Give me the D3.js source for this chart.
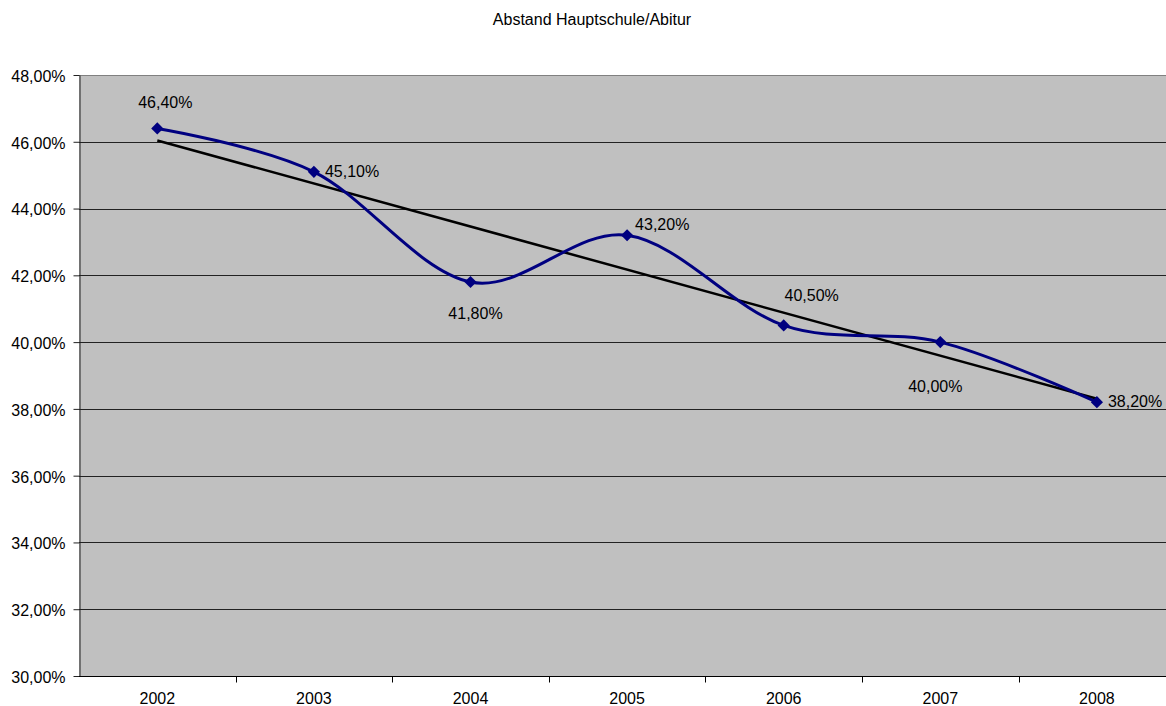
<!DOCTYPE html>
<html>
<head>
<meta charset="utf-8">
<script src="https://cdn.jsdelivr.net/npm/d3@7"></script>
<style>
  body { margin: 0; background: #fff; }
  svg { display: block; font-family: "Liberation Sans", Arial, sans-serif; }
</style>
</head>
<body>
<svg id="chart" width="1166" height="706"></svg>
<script>
// data
const years = ["2002", "2003", "2004", "2005", "2006", "2007", "2008"];
const values = [46.4, 45.1, 41.8, 43.2, 40.5, 40.0, 38.2];
const yTicks = [30, 32, 34, 36, 38, 40, 42, 44, 46, 48];
const title = "Abstand Hauptschule/Abitur";

// label placement per point (dx, dy from marker, anchor)
const labelPlace = [
  [8, -20, "middle"], [11, 5, "start"], [5, 37, "middle"], [8, -5, "start"],
  [28, -24, "middle"], [-5, 50, "middle"], [11, 5, "start"]
];

const fmt = v => v.toFixed(2).replace(".", ",") + "%";
const FS = 16;

const svg = d3.select("#chart");
const margin = { top: 75, left: 79, bottom: 676 };
const step = 156.6;

const x = d3.scaleBand()
  .domain(years)
  .range([margin.left, margin.left + step * years.length])
  .padding(0);

const y = d3.scaleLinear()
  .domain([30, 48])
  .range([margin.bottom, margin.top]);

// plot background
svg.append("rect")
  .attr("x", margin.left)
  .attr("y", margin.top)
  .attr("width", 1166 - margin.left)
  .attr("height", margin.bottom - margin.top)
  .attr("fill", "#c0c0c0");

// gridlines
svg.append("g")
  .selectAll("line")
  .data(yTicks.filter(t => t > 30))
  .join("line")
  .attr("x1", margin.left)
  .attr("x2", 1166)
  .attr("y1", d => Math.round(y(d)) + 0.5)
  .attr("y2", d => Math.round(y(d)) + 0.5)
  .attr("stroke", d => d === 48 ? "#808080" : "#222")
  .attr("stroke-width", 1);

// y axis
const yAxis = svg.append("g")
  .attr("transform", `translate(${margin.left + 0.5},0)`)
  .call(d3.axisLeft(y).tickValues(yTicks).tickFormat(fmt).tickSize(6).tickSizeOuter(0).tickPadding(8));
yAxis.select(".domain").attr("stroke", "#222");
yAxis.selectAll(".tick line").attr("stroke", "#222");
yAxis.selectAll("text").attr("font-size", FS).attr("fill", "#000").attr("dy", "0.4em")
  .attr("font-family", "Liberation Sans, Arial, sans-serif");

// x axis
const xAxis = svg.append("g")
  .attr("transform", `translate(0,${margin.bottom + 0.5})`);
xAxis.append("line")
  .attr("x1", margin.left).attr("x2", 1166)
  .attr("stroke", "#000");
xAxis.selectAll(".tk")
  .data(years.slice(1))
  .join("line")
  .attr("class", "tk")
  .attr("x1", d => Math.round(x(d)) + 0.5)
  .attr("x2", d => Math.round(x(d)) + 0.5)
  .attr("y1", 0).attr("y2", 6)
  .attr("stroke", "#000");
xAxis.selectAll("text")
  .data(years)
  .join("text")
  .attr("x", d => x(d) + x.bandwidth() / 2)
  .attr("y", 27.5)
  .attr("text-anchor", "middle")
  .attr("font-size", FS)
  .text(d => d);

// linear trend (least squares over the series)
const n = values.length;
const mx = d3.mean(values, (v, i) => i);
const my = d3.mean(values);
const slope = d3.sum(values, (v, i) => (i - mx) * (v - my)) / d3.sum(values, (v, i) => (i - mx) ** 2);
const icpt = my - slope * mx;
const cx = i => x(years[i]) + x.bandwidth() / 2;

svg.append("line")
  .attr("x1", cx(0)).attr("y1", y(icpt))
  .attr("x2", cx(n - 1)).attr("y2", y(icpt + slope * (n - 1)))
  .attr("stroke", "#000")
  .attr("stroke-width", 2.5);

// smoothed series line
const line = d3.line()
  .x((v, i) => cx(i))
  .y(v => y(v))
  .curve(d3.curveCatmullRom.alpha(0));

svg.append("path")
  .datum(values)
  .attr("d", line)
  .attr("fill", "none")
  .attr("stroke", "#000080")
  .attr("stroke-width", 3);

// diamond markers
svg.append("g")
  .selectAll("path")
  .data(values)
  .join("path")
  .attr("transform", (v, i) => `translate(${cx(i)},${y(v)})`)
  .attr("d", d3.symbol(d3.symbolDiamond2, 95))
  .attr("fill", "#000080");

// value labels
svg.append("g")
  .selectAll("text")
  .data(values)
  .join("text")
  .attr("x", (v, i) => cx(i) + labelPlace[i][0])
  .attr("y", (v, i) => y(v) + labelPlace[i][1])
  .attr("text-anchor", (v, i) => labelPlace[i][2])
  .attr("font-size", FS)
  .attr("fill", "#000")
  .text(fmt);

// title
svg.append("text")
  .attr("x", 592)
  .attr("y", 24.5)
  .attr("text-anchor", "middle")
  .attr("font-size", FS)
  .text(title);
</script>
</body>
</html>
